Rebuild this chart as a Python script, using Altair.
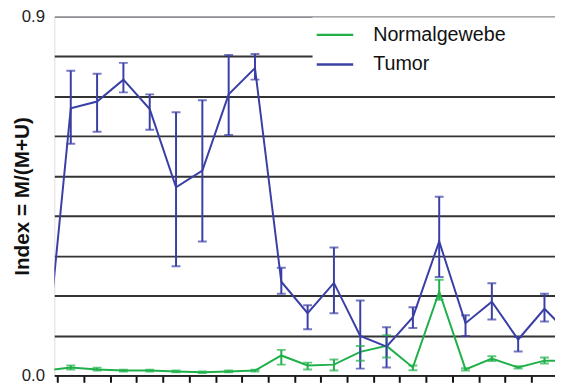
import altair as alt
import pandas as pd

# ---- data ----
categories = list(range(21))

tumor_mean = [0.00, 0.670, 0.687, 0.742, 0.668, 0.472, 0.514, 0.705, 0.771, 0.235,
              0.156, 0.232, 0.099, 0.072, 0.146, 0.336, 0.131, 0.185, 0.090, 0.167, 0.100]
tumor_lo = [0.00, 0.581, 0.611, 0.710, 0.616, 0.274, 0.336, 0.603, 0.742, 0.205,
            0.116, 0.156, 0.017, 0.020, 0.119, 0.247, 0.099, 0.140, 0.060, 0.135, 0.100]
tumor_hi = [0.00, 0.764, 0.757, 0.784, 0.705, 0.660, 0.690, 0.804, 0.806, 0.270,
            0.176, 0.321, 0.188, 0.121, 0.171, 0.448, 0.151, 0.231, 0.096, 0.205, 0.100]

normal_mean = [0.012, 0.020, 0.015, 0.012, 0.012, 0.010, 0.008, 0.010, 0.012, 0.050,
               0.025, 0.027, 0.059, 0.074, 0.020, 0.210, 0.015, 0.042, 0.020, 0.037, 0.037]
normal_lo = [0.012, 0.015, 0.012, 0.010, 0.010, 0.008, 0.006, 0.008, 0.010, 0.027,
             0.015, 0.012, 0.037, 0.045, 0.013, 0.190, 0.012, 0.036, 0.017, 0.030, 0.037]
normal_hi = [0.012, 0.025, 0.019, 0.014, 0.014, 0.012, 0.010, 0.012, 0.014, 0.064,
             0.032, 0.040, 0.074, 0.101, 0.025, 0.240, 0.018, 0.048, 0.023, 0.045, 0.037]

series_names = ["Normalgewebe", "Tumor"]
series_colors = ["#1fb04a", "#3a3fa6"]

x_ticks = [i + 0.5 for i in range(19)]
y_ticks = [round(0.1 * i, 1) for i in range(10)]

rows = []
for i, c in enumerate(categories):
    rows.append({"cat": c, "series": "Normalgewebe", "mean": normal_mean[i],
                 "lo": normal_lo[i], "hi": normal_hi[i]})
    rows.append({"cat": c, "series": "Tumor", "mean": tumor_mean[i],
                 "lo": tumor_lo[i], "hi": tumor_hi[i]})
df = pd.DataFrame(rows)

x_scale = alt.Scale(domain=[0.375, 19.4], nice=False, zero=False)
x_axis = alt.Axis(values=x_ticks, labels=False, title=None, grid=False,
                  tickSize=7, tickWidth=2, tickColor="#111", labelOverlap=False,
                  domainColor="#222", domainWidth=2)
x_enc = alt.X("cat:Q", scale=x_scale, axis=x_axis)

y_scale = alt.Scale(domain=[0, 0.9], nice=False)
y_axis = alt.Axis(values=y_ticks, title="Index = M/(M+U)",
                  labelExpr="datum.value < 0.05 || datum.value > 0.85 ? format(datum.value, '.1f') : ''",
                  labelFontSize=17, labelColor="#222", labelPadding=10,
                  ticks=False, domain=False, grid=True,
                  gridColor={"condition": {"test": "datum.value > 0.85", "value": "#8e9094"},
                             "value": "#333333"},
                  gridWidth=2,
                  titleFontSize=21, titleFontWeight="bold", titleColor="#111",
                  titleX=-32, titleY=182, titleAlign="center",
                  titleBaseline="middle", titleAngle=270)

color_scale = alt.Scale(domain=series_names, range=series_colors)
color_enc = alt.Color("series:N", scale=color_scale,
                      legend=alt.Legend(title=None, orient="none", legendX=267.25, legendY=1,
                                        symbolType="M-2,0H2", symbolSize=342,
                                        symbolStrokeWidth=2.5, symbolFillColor="transparent",
                                        labelFontSize=20, labelColor="#111", labelOffset=28.25,
                                        padding=7, rowPadding=9))
color_plain = alt.Color("series:N", scale=color_scale, legend=None)

base = alt.Chart(df)

lines = base.mark_line(clip=True, strokeWidth=2).encode(
    x=x_enc, y=alt.Y("mean:Q", scale=y_scale, axis=y_axis), color=color_enc,
)
bars = base.mark_rule(clip=True, strokeWidth=2).encode(
    x=x_enc, y=alt.Y("lo:Q", scale=y_scale, axis=y_axis), y2="hi:Q", color=color_plain,
)
caps_lo = base.mark_tick(clip=True, orient="horizontal", size=9, thickness=2).encode(
    x=x_enc, y=alt.Y("lo:Q", scale=y_scale, axis=y_axis), color=color_plain,
)
caps_hi = base.mark_tick(clip=True, orient="horizontal", size=9, thickness=2).encode(
    x=x_enc, y=alt.Y("hi:Q", scale=y_scale, axis=y_axis), color=color_plain,
)

legend_box = alt.Chart(alt.Data(values=[{"a": 1}])).mark_rect(color="white").encode(
    x=alt.value(262), x2=alt.value(508), y=alt.value(1), y2=alt.value(64)
)

chart = alt.layer(lines, bars, caps_lo, caps_hi, legend_box).properties(
    width=508, height=364,
    autosize=alt.AutoSizeParams(type="none"),
    padding={"left": 47, "top": 6, "right": 0, "bottom": 8},
    background="white",
).configure_view(
    fill="#c3c7cb", stroke=None
).configure(
    font="Liberation Sans"
)

chart.save("out.html", embed_options={"renderer": "svg", "actions": False})
